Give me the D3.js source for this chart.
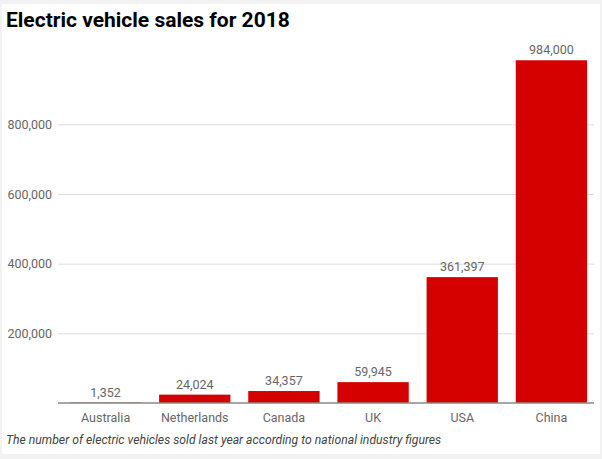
<!DOCTYPE html>
<html>
<head>
<meta charset="utf-8">
<script src="https://cdn.jsdelivr.net/npm/d3@7"></script>
<style>
  html, body { margin: 0; padding: 0; background: #f2f2f2; }
  svg { display: block; }
  text { font-family: Roboto, "Noto Sans", sans-serif; }
</style>
</head>
<body>
<svg id="chart" width="602" height="459"></svg>
<script>
const categories = ["Australia", "Netherlands", "Canada", "UK", "USA", "China"];
const values = [1352, 24024, 34357, 59945, 361397, 984000];
const yTicks = [200000, 400000, 600000, 800000];
const title = "Electric vehicle sales for 2018";
const caption = "The number of electric vehicles sold last year according to national industry figures";

const svg = d3.select("#chart");
const W = 602, H = 459;

svg.append("rect").attr("x", 0).attr("y", 0).attr("width", W).attr("height", H).attr("fill", "#f2f2f2");
svg.append("rect").attr("x", 2).attr("y", 4).attr("width", 598).attr("height", 450).attr("fill", "#ffffff");

const x = d3.scaleBand().domain(categories).range([61, 596]).paddingInner(0.2).paddingOuter(0.1);
const y = d3.scaleLinear().domain([0, 1000000]).range([403, 54.7]);
const fmt = d3.format(",");

// gridlines
const grid = svg.append("g")
  .attr("transform", "translate(58,0)")
  .call(d3.axisLeft(y).tickValues(yTicks).tickSize(-536).tickFormat(""));
grid.select(".domain").remove();
grid.selectAll(".tick line").attr("stroke", "#dddddd").attr("stroke-width", 1);

// y labels
const yAxis = svg.append("g")
  .attr("transform", "translate(52,0)")
  .call(d3.axisLeft(y).tickValues(yTicks).tickSize(0).tickPadding(0).tickFormat(fmt));
yAxis.select(".domain").remove();
yAxis.selectAll("text").attr("fill", "#666666").style("font-size", "12.5px").style("font-family", "Roboto, sans-serif");

// bars
svg.append("g").selectAll("rect").data(values).join("rect")
  .attr("x", (d, i) => x(categories[i]))
  .attr("width", x.bandwidth())
  .attr("y", d => y(d))
  .attr("height", d => y(0) - y(d))
  .attr("fill", "#d50000");

// value labels
svg.append("g").selectAll("text").data(values).join("text")
  .attr("x", (d, i) => x(categories[i]) + x.bandwidth() / 2)
  .attr("y", d => y(d) - 6)
  .attr("text-anchor", "middle")
  .attr("fill", "#666666")
  .style("font-size", "12.5px")
  .text(d => fmt(d));

// baseline + category axis
const xAxis = svg.append("g")
  .attr("transform", `translate(0,${y(0)})`)
  .call(d3.axisBottom(x).tickSize(0).tickPadding(10));
xAxis.select(".domain").remove();
xAxis.selectAll("text").attr("fill", "#666666").style("font-size", "12.5px").style("font-family", "Roboto, sans-serif");
svg.append("line").attr("x1", 58).attr("x2", 594).attr("y1", y(0)).attr("y2", y(0))
  .attr("stroke", "#888888").attr("stroke-width", 1.5);

// title
svg.append("text").attr("x", 6).attr("y", 26.5)
  .attr("fill", "#000000").style("font-size", "21px").style("font-weight", "700")
  .text(title);

// caption
svg.append("text").attr("x", 6).attr("y", 444)
  .attr("fill", "#444444").style("font-size", "12.2px").style("font-style", "italic")
  .text(caption);
</script>
</body>
</html>
